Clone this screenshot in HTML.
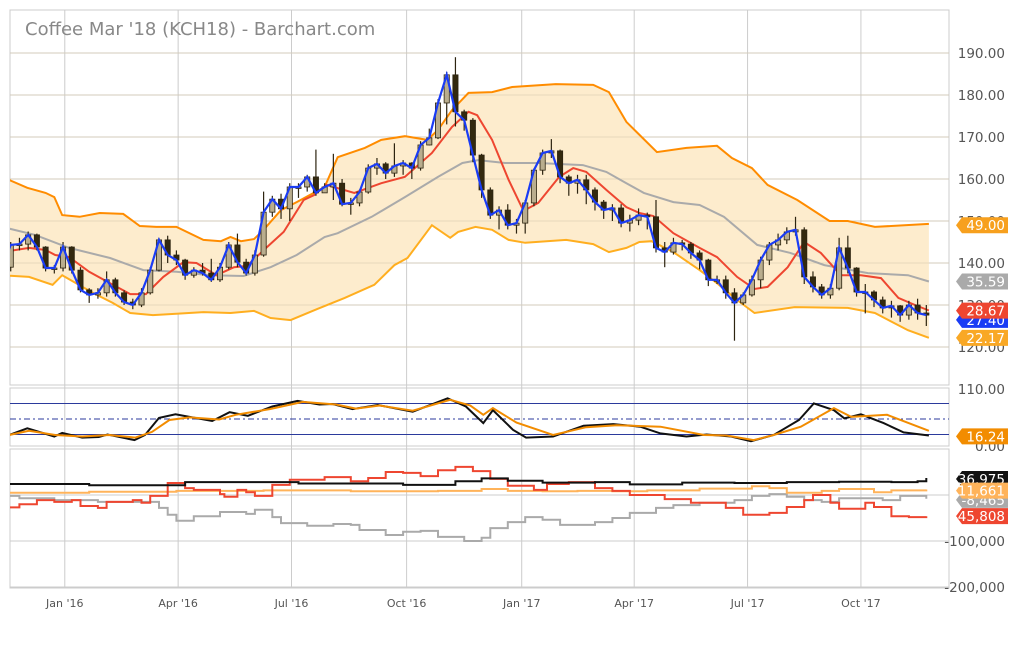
<!DOCTYPE html>
<html><head><meta charset="utf-8"><style>
html,body{margin:0;padding:0;background:#fff;}
svg{display:block;font-family:"DejaVu Sans","Liberation Sans",sans-serif;}
</style></head><body>
<svg id="chart" width="1011" height="650" viewBox="0 0 1011 650" xmlns="http://www.w3.org/2000/svg">
<defs>
<clipPath id="cTop"><rect x="10" y="10" width="939" height="375"/></clipPath>
<clipPath id="cMid"><rect x="10" y="388" width="939" height="58"/></clipPath>
<clipPath id="cBot"><rect x="10" y="449" width="939" height="140"/></clipPath>
</defs>
<rect x="0" y="0" width="1011" height="650" fill="#fff"/>
<g id="grid"></g>
<g id="top" clip-path="url(#cTop)"></g>
<g id="mid" clip-path="url(#cMid)"></g>
<g id="bot" clip-path="url(#cBot)"></g>
<g id="axes"></g>
<text x="25" y="35" font-size="18" fill="#888">Coffee Mar '18 (KCH18) - Barchart.com</text>
</svg>
<script>
// ---- data ----
const dateLabels = ["Jan '16","Apr '16","Jul '16","Oct '16","Jan '17","Apr '17","Jul '17","Oct '17"];
const dateWeeks = [7.2,20.2,33.2,46.4,59.6,72.5,85.5,98.5];
const priceTicks = [120,130,140,150,160,170,180,190];
const stochTicks = [0,110];
const cotTicks = [-200,-100];
const opens = [136.0,139.0,144.3,144.5,146.7,143.8,138.8,138.8,143.8,138.3,133.6,132.4,132.9,136.0,132.9,130.7,130.0,132.9,138.3,145.5,141.9,140.7,137.1,138.3,137.6,136.0,139.0,144.3,140.2,137.6,141.9,152.1,155.2,152.9,158.1,158.1,160.5,156.7,158.1,159.0,154.0,154.3,156.9,162.6,163.6,161.4,163.1,163.8,162.6,168.1,169.8,178.1,184.8,176.0,174.0,165.7,157.4,151.4,152.6,149.0,149.5,154.3,162.1,166.2,166.7,160.5,159.0,159.8,157.4,154.5,152.6,153.1,149.5,150.2,151.4,151.0,143.6,142.6,144.8,144.5,142.4,140.7,136.0,136.0,132.9,130.5,132.4,136.0,140.7,144.3,145.5,147.4,147.9,136.7,134.3,132.4,134.0,143.6,138.8,133.1,133.1,131.2,129.3,129.8,127.6,130.0,128.1];
const closes = [139.0,144.3,144.5,146.7,143.8,138.8,138.8,143.8,138.3,133.6,132.4,132.9,136.0,132.9,130.7,130.0,132.9,138.3,145.5,141.9,140.7,137.1,138.3,137.6,136.0,139.0,144.3,140.2,137.6,141.9,152.1,155.2,152.9,158.1,158.1,160.5,156.7,158.1,159.0,154.0,154.3,156.9,162.6,163.6,161.4,163.1,163.8,162.6,168.1,169.8,178.1,184.8,176.0,174.0,165.7,157.4,151.4,152.6,149.0,149.5,154.3,162.1,166.2,166.7,160.5,159.0,159.8,157.4,154.5,152.6,153.1,149.5,150.2,151.4,151.0,143.6,142.6,144.8,144.5,142.4,140.7,136.0,136.0,132.9,130.5,132.4,136.0,140.7,144.3,145.5,147.4,147.9,136.7,134.3,132.4,134.0,143.6,138.8,133.1,133.1,131.2,129.3,129.8,127.6,130.0,128.1,127.6];
const highs = [140,145,146,147.5,147,144,139.5,145,144,139,134,134,138,136.5,133.5,131.5,134,139,146,146.5,143,141,139,140,141,140,145,147,141,143,157,156,156.5,159,159,161,167,159,166,160,155.5,157.5,163.5,165,164,168.5,164.5,164,169,172,179,185.5,189,176.5,174.5,166,158,153.5,154,150.5,155,162.5,167,169.5,167,161,161,161,158,155,154,154,151.5,153,152,155,145,146,145.5,145,143,141,137,137,134,133,137,141.5,145,147,148.5,151,148.5,138,135,135,146,146.5,139,135,133.5,132,131,130,131,131.5,130];
const lows = [135,138,143,143,143,138,137.5,138,137.5,133,130.5,131.5,132,132,130,129,129.5,132.5,138,140,139.5,136,136.5,137,135.5,135.5,138.5,139,137,137,141.5,151,150.5,150,155.5,157,156,157,155,153.5,151.5,153.5,156.5,161,160,160.5,161,160,162,168,169.5,173,172.5,171.5,164,155.5,150.5,148,148,147,147,153.5,161,165,159,156,156.5,154,152.5,150.5,150,148.5,147.5,149,148,142.5,139,142,143,141,138.5,134.5,135,131.5,121.5,130,132,134,139.5,143,144.5,146.5,135,133,131.5,131.5,133.5,137.5,132,128,129.5,128,127,126,126.5,126.5,125];
const upperWeek = [0,2.9,5.0,6.0,6.9,8.9,11.2,13.9,15.8,17.7,20.0,23.1,25.1,26.2,27.4,28.9,30.0,32.0,33.8,37.0,38.5,41.6,43.5,46.2,48.8,50.0,51.6,53.5,56.2,58.5,63.5,67.8,69.6,71.6,75.1,78.5,82.0,83.7,86.0,87.8,91.2,94.9,97.0,100.1,106.3];
const upperVal = [160.5,157.9,156.7,155.7,151.4,151.0,151.9,151.7,148.8,148.6,148.6,145.5,145.2,146.2,145.2,145.7,147.9,152.6,154.5,158.1,165.2,167.4,169.3,170.2,169.3,171.7,176.4,180.5,180.7,181.9,182.6,182.4,180.7,173.6,166.4,167.4,167.9,165.0,162.6,158.6,155.0,150.0,150.0,148.6,149.3];
const lowerWeek = [0,3.1,5.8,6.9,10.4,12.7,14.7,17.3,20.0,23.1,26.2,28.9,30.8,33.1,36.1,39.3,42.7,45.0,46.5,49.3,51.4,52.3,54.3,56.2,58.1,60.0,64.7,67.8,69.6,71.6,73.1,74.5,77.0,80.0,82.0,84.3,86.3,90.9,97.0,100.1,103.9,106.3];
const lowerVal = [137.1,136.7,134.8,137.1,132.9,130.5,128.1,127.6,127.9,128.3,128.1,128.6,126.9,126.4,129.0,131.7,134.8,139.5,141.2,149.0,146.0,147.4,148.6,147.9,145.5,144.8,145.5,144.5,142.6,143.6,145.0,145.2,142.6,138.3,135.2,131.2,128.1,129.5,129.3,128.1,124.0,122.2];
const midWeek = [0,3.8,7.7,12.4,16.2,20.0,23.9,27.7,30.8,33.8,37.0,38.5,42.4,46.2,50.0,52.8,54.6,57.7,61.5,66.6,69.3,71.6,73.6,77.0,80.0,82.8,86.6,90.4,94.3,99.3,103.9,106.3];
const midVal = [148.6,146.7,143.6,141.2,138.3,137.9,137.1,136.9,139.0,141.9,146.2,147.1,151.0,155.7,160.5,163.8,164.5,163.8,163.8,163.3,161.7,159.0,156.7,154.5,153.8,151.0,144.3,142.4,139.5,137.6,137.1,135.6];
const maWeek = [0,3.1,5.0,6.1,7.7,10.0,12.4,14.7,16.5,18.5,20.8,22.3,24.6,26.6,28.1,30.4,32.3,34.6,35.8,37.2,40.4,43.5,46.2,49.3,51.6,53.5,54.5,56.2,58.1,59.8,61.5,63.9,65.5,67.0,69.3,71.6,73.1,74.7,77.0,80.0,82.0,84.3,86.3,87.8,90.1,92.0,93.9,96.2,98.5,100.8,102.8,104.7,106.3];
const maVal = [142.6,143.6,143.1,141.9,141.4,137.9,135.2,132.6,132.6,136.7,140.2,140.0,137.1,139.0,139.3,143.8,147.4,155.0,156.2,158.6,156.7,159.0,160.5,166.2,172.4,176.0,175.2,169.3,159.8,152.4,154.3,160.5,162.6,161.7,157.4,153.3,151.9,151.2,147.1,143.6,141.4,136.7,133.8,134.3,139.0,145.0,142.4,137.1,137.1,136.4,131.7,130.0,128.7];
const stochKWeek = [0,2.9,6.0,6.9,9.2,11.1,12.1,15.2,16.4,18.0,19.9,21.5,24.1,26.1,28.2,31.0,33.9,36.4,37.9,40.2,43.1,47.1,51.1,53.2,55.2,56.3,58.6,60.1,63.2,66.7,70.1,73.2,75.5,78.5,80.8,83.6,85.9,88.5,91.4,93.1,95.4,96.6,98.5,101.1,103.4,106.3];
const stochKVal = [14,32,16,23,14,15,20,9,19,52,59,54,46,63,56,74,85,78,79,69,77,64,90,74,42,67,29,14,16,37,40,35,22,16,20,16,7,19,48,80,67,51,59,42,24,18];
const stochDWeek = [0,3.1,6.1,9.2,12.3,15.3,17.2,19.2,21.5,24.9,26.8,30.7,34.5,38.3,40.6,43.3,47.1,51.4,53.7,55.2,56.3,59.0,63.2,67.0,70.5,75.5,80.5,83.1,86.2,88.5,91.6,95.4,97.4,101.5,106.3];
const stochDVal = [16,27,19,16,19,14,25,48,53,49,58,69,83,78,70,76,66,87,76,58,71,43,19,34,38,35,19,18,9,19,35,71,54,58,27,16];
const commWeek = [0,10,21,34,46,52,55,58,62,68,72,78,84,90,96,102,105,106];
const commVal = [24,21,28,25,22,30,36,31,27,28,23,27,26,28,29,28,30,37];
const largeWeek = [0,10,20,30,40,50,55,58,62,66,70,74,80,86,88,90,94,96,100,102,106];
const largeVal = [5,7,9,10,8,9,13,9,8,9,8,10,14,19,15,5,9,13,6,10,12];
const smallWeek = [0,2,6,11,17,18,19,20,22,25,28,29,31,32,35,38,40,41,44,46,48,50,53,55,56,58,60,62,64,68,70,72,75,77,80,84,86,88,90,92,94,96,101,103,106];
const smallVal = [-2,-7,-11,-15,-15,-28,-43,-56,-46,-37,-41,-32,-48,-61,-67,-63,-65,-76,-87,-80,-78,-91,-100,-93,-72,-59,-48,-54,-65,-59,-50,-39,-28,-22,-17,-11,-2,2,-4,-11,-15,-7,-11,-2,-8];
const specWeek = [0,2,4,6,8,9,11,12,15,16,17,19,21,22,25,25.5,27,28,29,31,33,37,40,42,44,46,48,50,52,54,56,58,61,62.5,65,68,70,72,76,79,83,85,88,90,92,93,95,96,99,100,102,104,106];
const specVal = [-27,-20,-11,-15,-11,-24,-28,-15,-11,-17,-2,26,15,11,2,-4,11,6,-2,22,33,39,30,37,50,48,41,54,61,52,35,20,11,24,28,15,9,0,-9,-17,-28,-43,-39,-26,-11,0,-17,-30,-17,-26,-46,-48,-46];
const tagPrice = [["49.00",149.0,"#f7a01e","#fff"],["35.59",135.59,"#aaaaaa","#fff"],["22.17",122.17,"#f9a825","#fff"]];

// ---- scales ----
const X = w => 2 + w*8.72;
const YP = p => 53 + (190-p)*4.2;
const YS = v => 444.8 - v*0.517;
const YC = k => 495 - k*0.46;
const NS = "http://www.w3.org/2000/svg";
function mk(tag, attrs, parent){ const e=document.createElementNS(NS,tag); for(const k in attrs) e.setAttribute(k,attrs[k]); parent.appendChild(e); return e; }
const grid=document.getElementById('grid'), top_=document.getElementById('top'), mid=document.getElementById('mid'), bot=document.getElementById('bot'), axes=document.getElementById('axes');

// panel frames
[[10,10,939,375],[10,388,939,58],[10,449,939,139]].forEach(r=>{
  const e=mk('rect',{x:r[0],y:r[1],width:r[2],height:r[3],fill:'none',stroke:'#ccc','stroke-width':1},grid);
  
  
});
dateWeeks.forEach((w,i)=>{
  const l=mk('line',{x1:X(w),x2:X(w),y1:10,y2:588,stroke:'#ccc','stroke-width':1},grid);
  
  
  const t=mk('text',{x:X(w),y:607,'font-size':11,fill:'#555','text-anchor':'middle'},axes);
  t.textContent=dateLabels[i];
  
  
});
priceTicks.forEach(p=>{
  const l=mk('line',{x1:10,x2:949,y1:YP(p),y2:YP(p),stroke:'#ccc','stroke-width':1},grid);
  
  
  const t=mk('text',{x:1005,y:YP(p)+5,'font-size':13.5,fill:'#555','text-anchor':'end'},axes);
  t.textContent=p.toFixed(2);
  
  
});
const t110=mk('text',{x:1005,y:YS(110)+6,'font-size':13.5,fill:'#555','text-anchor':'end'},axes);
t110.textContent='110.00';


const t0=mk('text',{x:1005,y:YS(0)+6,'font-size':13.5,fill:'#555','text-anchor':'end'},axes);
t0.textContent='0.00';


mk('line',{x1:10,x2:949,y1:YC(0),y2:YC(0),stroke:'#ccc'},grid);
cotTicks.forEach(k=>{
  const l=mk('line',{x1:10,x2:949,y1:YC(k),y2:YC(k),stroke:'#ccc'},grid);
  
  
  const t=mk('text',{x:1005,y:YC(k)+5,'font-size':13.5,fill:'#555','text-anchor':'end'},axes);
  t.textContent=(k*1000).toLocaleString('en-US');
  
  
});

function pts(ws,vs,ys){ return ws.map((w,i)=>X(w).toFixed(1)+','+ys(vs[i]).toFixed(1)).join(' '); }
function stepPts(ws,vs,ys){ let s=[]; ws.forEach((w,i)=>{ if(i>0) s.push(X(w).toFixed(1)+','+ys(vs[i-1]).toFixed(1)); s.push(X(w).toFixed(1)+','+ys(vs[i]).toFixed(1)); }); return s.join(' '); }

// band fill
const fillPts = pts(upperWeek,upperVal,YP)+' '+lowerWeek.map((w,i)=>X(w).toFixed(1)+','+YP(lowerVal[i]).toFixed(1)).reverse().join(' ');
const bf=mk('polygon',{points:fillPts,fill:'#fdeccd'},top_);


priceTicks.forEach(p=>{ mk('line',{x1:10,x2:949,y1:YP(p),y2:YP(p),stroke:'#d9cbb0','stroke-width':1,opacity:0.6},top_); });
const ub=mk('polyline',{points:pts(upperWeek,upperVal,YP),fill:'none',stroke:'#ff8c00','stroke-width':2},top_);


const lb=mk('polyline',{points:pts(lowerWeek,lowerVal,YP),fill:'none',stroke:'#ffae1f','stroke-width':2},top_);


const mb=mk('polyline',{points:pts(midWeek,midVal,YP),fill:'none',stroke:'#aaa','stroke-width':2},top_);


const ma=mk('polyline',{points:pts(maWeek,maVal,YP),fill:'none',stroke:'#ee4630','stroke-width':2},top_);


closes.forEach((c,i)=>{
  const o=opens[i], x=X(i), up=c>=o;
  const g=mk('g',{},top_);
  
  
  mk('line',{x1:x,x2:x,y1:YP(highs[i]),y2:YP(lows[i]),stroke:'#2d2410','stroke-width':1.2},g);
  const yt=YP(Math.max(o,c)), yb=YP(Math.min(o,c));
  mk('rect',{x:x-2.6,y:yt,width:5.2,height:Math.max(1.5,yb-yt),fill:up?'#b9ad8e':'#33290f',stroke:'#2d2410','stroke-width':0.8},g);
});
const cl=mk('polyline',{points:closes.map((c,i)=>X(i).toFixed(1)+','+YP(c).toFixed(1)).join(' '),fill:'none',stroke:'#1a3cf5','stroke-width':2.2},top_);



// stochastic panel
mk('line',{x1:10,x2:949,y1:YS(80),y2:YS(80),stroke:'#2b3a9c','stroke-width':1},mid);
mk('line',{x1:10,x2:949,y1:YS(20),y2:YS(20),stroke:'#2b3a9c','stroke-width':1},mid);
mk('line',{x1:10,x2:949,y1:YS(50),y2:YS(50),stroke:'#2b3a9c','stroke-width':1,'stroke-dasharray':'6,3,2,3'},mid);
const sk=mk('polyline',{points:pts(stochKWeek,stochKVal,YS),fill:'none',stroke:'#111','stroke-width':2},mid);


const sd=mk('polyline',{points:pts(stochDWeek,stochDVal,YS),fill:'none',stroke:'#f28c00','stroke-width':2},mid);



// COT panel
[[smallWeek,smallVal,'#aaa','small-traders-line'],[largeWeek,largeVal,'#ffb35a','large-traders-line'],[specWeek,specVal,'#ee4630','speculators-line'],[commWeek,commVal,'#111','commercials-line']].forEach(s=>{
  const e=mk('polyline',{points:stepPts(s[0],s[1],YC),fill:'none',stroke:s[2],'stroke-width':2},bot);
  
  
});

// value tags
function tag(txt,y,bg,fg,name){
  const g=mk('g',{},axes);
  
  
  mk('polygon',{points:`${956},${y} ${962},${y-8} ${1008},${y-8} ${1008},${y+8} ${962},${y+8}`,fill:bg},g);
  const t=mk('text',{x:1005,y:y+5,'font-size':13.5,fill:fg,'text-anchor':'end'},g);
  t.textContent=txt;
}
tag('27.40',YP(127.4)+4,'#1a3cf5','#fff','close-value-tag');
tag('28.67',YP(128.67),'#ee4630','#fff','ma-value-tag');
tagPrice.forEach(tp=>tag(tp[0],YP(tp[1]),tp[2],tp[3],'band-value-tag'));
tag('16.24',YS(16.24),'#f28c00','#fff','stochastic-value-tag');
tag('36,975',YC(36.975)+1,'#111','#fff','commercials-value-tag');
tag('-8,465',YC(-8.465)+1,'#aaa','#fff','small-traders-value-tag');
tag('11,661',YC(11.661)+1,'#ffb35a','#fff','large-traders-value-tag');
tag('-45,808',YC(-45.808),'#ee4630','#fff','speculators-value-tag');
</script>
</body></html>
